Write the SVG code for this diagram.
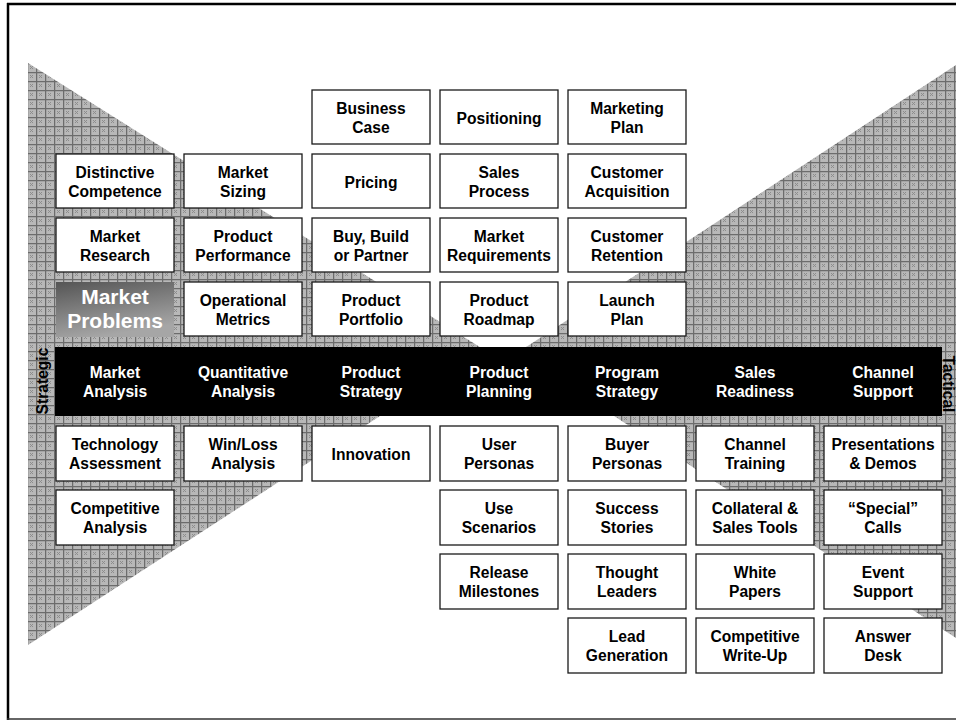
<svg xmlns="http://www.w3.org/2000/svg" width="956" height="721" viewBox="0 0 956 721">
<defs>
<pattern id="hatch" width="9" height="9" patternUnits="userSpaceOnUse">
<rect width="9" height="9" fill="#b8b8b8"/>
<path d="M0 0.6H9M0.6 0V9" stroke="#6c6c6c" stroke-width="1.3"/>
<path d="M3 3h1v1h-1zM5 5h1v1h-1zM5 3h1v1h-1zM3 5h1v1h-1zM4 4h1v1h-1z" fill="#8c8c8c"/>
</pattern>
<linearGradient id="mp" x1="0" y1="0" x2="0.35" y2="1">
<stop offset="0" stop-color="#555555"/>
<stop offset="1" stop-color="#a6a6a6"/>
</linearGradient>
</defs>
<style>
.box{fill:#ffffff;stroke:#1a1a1a;stroke-width:1.3}
.t{font-family:"Liberation Sans",Arial,sans-serif;font-weight:bold;font-size:15.6px;text-anchor:middle;fill:#000000}
.w{fill:#ffffff}
.big{font-size:21px}
</style>
<rect width="956" height="721" fill="#ffffff"/>
<g id="frame" fill="none">
<path d="M7 4H956" stroke="#000" stroke-width="2.5"/>
<path d="M8 3V720" stroke="#000" stroke-width="2.5"/>
<path d="M7 719H956" stroke="#333" stroke-width="1.6"/>
</g>
<g id="background">
<polygon points="28,63 28,645 483,349" fill="url(#hatch)"/>
<polygon points="956,65 956,638 517,353" fill="url(#hatch)"/>
</g>
<g id="band">
<rect x="55" y="347" width="887" height="69" fill="#000"/>
</g>
<g id="label-strategic"><text class="t" transform="rotate(-90 48 381)" x="48" y="381">Strategic</text></g>
<g id="label-tactical"><text class="t" transform="rotate(90 943 384)" x="943" y="384">Tactical</text></g>

<g id="band-market-analysis"><text class="t w" x="115" y="378">Market<tspan x="115" y="397">Analysis</tspan></text></g>
<g id="band-quantitative-analysis"><text class="t w" x="243" y="378">Quantitative<tspan x="243" y="397">Analysis</tspan></text></g>
<g id="band-product-strategy"><text class="t w" x="371" y="378">Product<tspan x="371" y="397">Strategy</tspan></text></g>
<g id="band-product-planning"><text class="t w" x="499" y="378">Product<tspan x="499" y="397">Planning</tspan></text></g>
<g id="band-program-strategy"><text class="t w" x="627" y="378">Program<tspan x="627" y="397">Strategy</tspan></text></g>
<g id="band-sales-readiness"><text class="t w" x="755" y="378">Sales<tspan x="755" y="397">Readiness</tspan></text></g>
<g id="band-channel-support"><text class="t w" x="883" y="378">Channel<tspan x="883" y="397">Support</tspan></text></g>

<g id="business-case"><rect class="box" x="312" y="90" width="118" height="54"/><text class="t" x="371" y="114">Business<tspan x="371" y="133">Case</tspan></text></g>
<g id="positioning"><rect class="box" x="440" y="90" width="118" height="54"/><text class="t" x="499" y="124">Positioning</text></g>
<g id="marketing-plan"><rect class="box" x="568" y="90" width="118" height="54"/><text class="t" x="627" y="114">Marketing<tspan x="627" y="133">Plan</tspan></text></g>

<g id="distinctive-competence"><rect class="box" x="56" y="154" width="118" height="54"/><text class="t" x="115" y="178">Distinctive<tspan x="115" y="197">Competence</tspan></text></g>
<g id="market-sizing"><rect class="box" x="184" y="154" width="118" height="54"/><text class="t" x="243" y="178">Market<tspan x="243" y="197">Sizing</tspan></text></g>
<g id="pricing"><rect class="box" x="312" y="154" width="118" height="54"/><text class="t" x="371" y="188">Pricing</text></g>
<g id="sales-process"><rect class="box" x="440" y="154" width="118" height="54"/><text class="t" x="499" y="178">Sales<tspan x="499" y="197">Process</tspan></text></g>
<g id="customer-acquisition"><rect class="box" x="568" y="154" width="118" height="54"/><text class="t" x="627" y="178">Customer<tspan x="627" y="197">Acquisition</tspan></text></g>

<g id="market-research"><rect class="box" x="56" y="218" width="118" height="54"/><text class="t" x="115" y="242">Market<tspan x="115" y="261">Research</tspan></text></g>
<g id="product-performance"><rect class="box" x="184" y="218" width="118" height="54"/><text class="t" x="243" y="242">Product<tspan x="243" y="261">Performance</tspan></text></g>
<g id="buy-build-partner"><rect class="box" x="312" y="218" width="118" height="54"/><text class="t" x="371" y="242">Buy, Build<tspan x="371" y="261">or Partner</tspan></text></g>
<g id="market-requirements"><rect class="box" x="440" y="218" width="118" height="54"/><text class="t" x="499" y="242">Market<tspan x="499" y="261">Requirements</tspan></text></g>
<g id="customer-retention"><rect class="box" x="568" y="218" width="118" height="54"/><text class="t" x="627" y="242">Customer<tspan x="627" y="261">Retention</tspan></text></g>

<g id="market-problems"><rect x="56" y="282" width="118" height="55" fill="url(#mp)"/><text class="t w big" x="115" y="304">Market<tspan x="115" y="328">Problems</tspan></text></g>
<g id="operational-metrics"><rect class="box" x="184" y="282" width="118" height="54"/><text class="t" x="243" y="306">Operational<tspan x="243" y="325">Metrics</tspan></text></g>
<g id="product-portfolio"><rect class="box" x="312" y="282" width="118" height="54"/><text class="t" x="371" y="306">Product<tspan x="371" y="325">Portfolio</tspan></text></g>
<g id="product-roadmap"><rect class="box" x="440" y="282" width="118" height="54"/><text class="t" x="499" y="306">Product<tspan x="499" y="325">Roadmap</tspan></text></g>
<g id="launch-plan"><rect class="box" x="568" y="282" width="118" height="54"/><text class="t" x="627" y="306">Launch<tspan x="627" y="325">Plan</tspan></text></g>

<g id="technology-assessment"><rect class="box" x="56" y="426" width="118" height="55"/><text class="t" x="115" y="450">Technology<tspan x="115" y="469">Assessment</tspan></text></g>
<g id="win-loss-analysis"><rect class="box" x="184" y="426" width="118" height="55"/><text class="t" x="243" y="450">Win/Loss<tspan x="243" y="469">Analysis</tspan></text></g>
<g id="innovation"><rect class="box" x="312" y="426" width="118" height="55"/><text class="t" x="371" y="460">Innovation</text></g>
<g id="user-personas"><rect class="box" x="440" y="426" width="118" height="55"/><text class="t" x="499" y="450">User<tspan x="499" y="469">Personas</tspan></text></g>
<g id="buyer-personas"><rect class="box" x="568" y="426" width="118" height="55"/><text class="t" x="627" y="450">Buyer<tspan x="627" y="469">Personas</tspan></text></g>
<g id="channel-training"><rect class="box" x="696" y="426" width="118" height="55"/><text class="t" x="755" y="450">Channel<tspan x="755" y="469">Training</tspan></text></g>
<g id="presentations-demos"><rect class="box" x="824" y="426" width="118" height="55"/><text class="t" x="883" y="450">Presentations<tspan x="883" y="469">&amp; Demos</tspan></text></g>

<g id="competitive-analysis"><rect class="box" x="56" y="490" width="118" height="55"/><text class="t" x="115" y="514">Competitive<tspan x="115" y="533">Analysis</tspan></text></g>
<g id="use-scenarios"><rect class="box" x="440" y="490" width="118" height="55"/><text class="t" x="499" y="514">Use<tspan x="499" y="533">Scenarios</tspan></text></g>
<g id="success-stories"><rect class="box" x="568" y="490" width="118" height="55"/><text class="t" x="627" y="514">Success<tspan x="627" y="533">Stories</tspan></text></g>
<g id="collateral-sales-tools"><rect class="box" x="696" y="490" width="118" height="55"/><text class="t" x="755" y="514">Collateral &amp;<tspan x="755" y="533">Sales Tools</tspan></text></g>
<g id="special-calls"><rect class="box" x="824" y="490" width="118" height="55"/><text class="t" x="883" y="514">“Special”<tspan x="883" y="533">Calls</tspan></text></g>

<g id="release-milestones"><rect class="box" x="440" y="554" width="118" height="55"/><text class="t" x="499" y="578">Release<tspan x="499" y="597">Milestones</tspan></text></g>
<g id="thought-leaders"><rect class="box" x="568" y="554" width="118" height="55"/><text class="t" x="627" y="578">Thought<tspan x="627" y="597">Leaders</tspan></text></g>
<g id="white-papers"><rect class="box" x="696" y="554" width="118" height="55"/><text class="t" x="755" y="578">White<tspan x="755" y="597">Papers</tspan></text></g>
<g id="event-support"><rect class="box" x="824" y="554" width="118" height="55"/><text class="t" x="883" y="578">Event<tspan x="883" y="597">Support</tspan></text></g>

<g id="lead-generation"><rect class="box" x="568" y="618" width="118" height="55"/><text class="t" x="627" y="642">Lead<tspan x="627" y="661">Generation</tspan></text></g>
<g id="competitive-write-up"><rect class="box" x="696" y="618" width="118" height="55"/><text class="t" x="755" y="642">Competitive<tspan x="755" y="661">Write-Up</tspan></text></g>
<g id="answer-desk"><rect class="box" x="824" y="618" width="118" height="55"/><text class="t" x="883" y="642">Answer<tspan x="883" y="661">Desk</tspan></text></g>
</svg>
